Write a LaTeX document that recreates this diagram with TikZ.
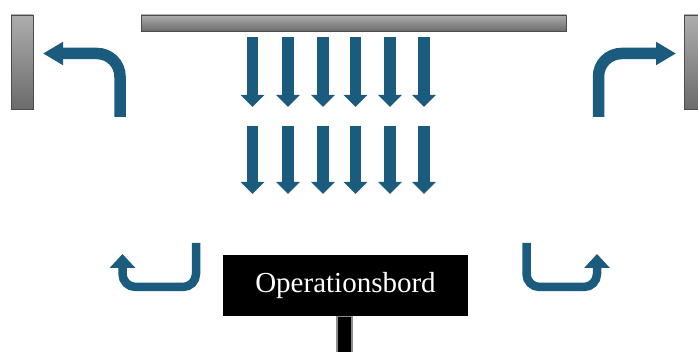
\documentclass[tikz,border=0pt]{standalone}
\usepackage{tikz}
\usetikzlibrary{arrows,arrows.meta}
\usepackage{fontspec}
\setmainfont{Liberation Serif}
\usepackage{xcolor}
\definecolor{flowblue}{HTML}{1A5B7E}
\tikzstyle{bar}=[top color=black!32, bottom color=black!58, draw=black!70, line width=0.8pt]
\tikzstyle{flow}=[flowblue, line width=11.5pt, -{Triangle[width=23pt,length=12pt]}]
\tikzstyle{bigflow}=[flowblue, line width=11.5pt, -{Triangle[width=22pt,length=20pt]}]
\tikzstyle{smallflow}=[flowblue, line width=8.5pt, -{Triangle[width=25pt,length=14pt]}]

\begin{document}
\begin{tikzpicture}[x=1pt,y=-1pt]
    \useasboundingbox (0,0) rectangle (698,352);
    % Draw the ceiling unit and the side walls
    \shade[bar] (141,15) rectangle (566,31);
    \shade[bar] (11,15) rectangle (33,109);
    \shade[bar] (684,15) rectangle (706,109);

    % Draw the downward air flow, two rows
    \foreach \x in {252.5,288,323,355.5,390,424}{
        \draw[flow] (\x,37) -- (\x,107);
        \draw[flow] (\x,126) -- (\x,194);
    }

    % Draw the flow turning out at the top
    \draw[bigflow, rounded corners=23pt] (120,117) -- (120,53.5) -- (43,53.5);
    \draw[bigflow, rounded corners=23pt] (598.5,117) -- (598.5,53.5) -- (676,53.5);

    % Draw the flow turning up at the bottom
    \draw[smallflow, rounded corners=13pt] (196,243) -- (196,287) -- (122.5,287) -- (122.5,254);
    \draw[smallflow, rounded corners=13pt] (526.5,243) -- (526.5,287) -- (597,287) -- (597,254);

    % Draw the table with its stand
    \filldraw[fill=black, draw=black!45, line width=1.5pt] (337,316) rectangle (352,356);
    \node[fill=black, text=white, minimum width=245pt, minimum height=61pt, inner sep=0pt,
          font=\fontsize{29}{32}\selectfont] (bord) at (345.5,285.5) {Operationsbord};
\end{tikzpicture}
\end{document}
